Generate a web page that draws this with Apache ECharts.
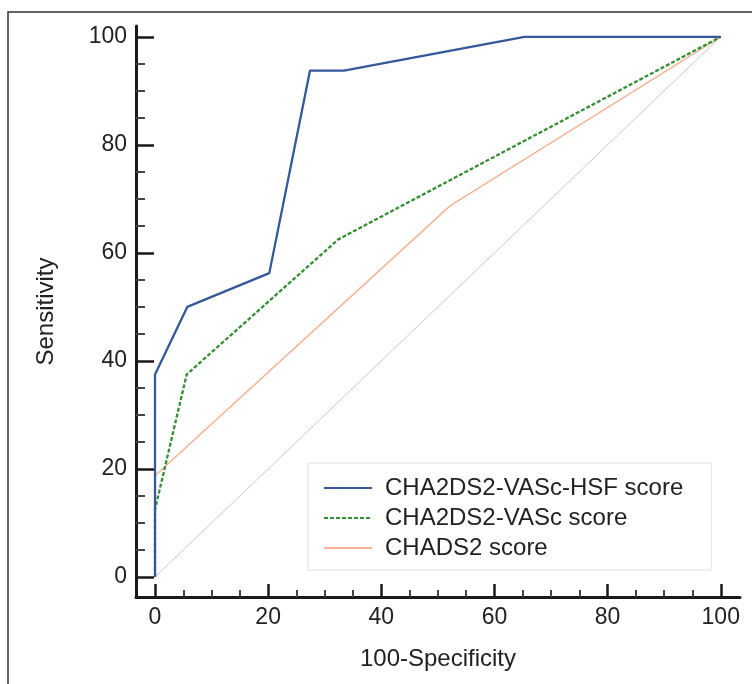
<!DOCTYPE html>
<html><head><meta charset="utf-8">
<script src="https://cdn.jsdelivr.net/npm/echarts@6/dist/echarts.min.js"></script>
<style>html,body{margin:0;padding:0;background:#fff}#c{width:752px;height:684px}</style>
</head><body><div id="c"></div>
<script>
// ---- data ----
const xTickValues = [0, 20, 40, 60, 80, 100];
const yTickValues = [0, 20, 40, 60, 80, 100];
const minorTickValues = [5, 10, 15, 25, 30, 35, 45, 50, 55, 65, 70, 75, 85, 90, 95];
const seriesNames = ['CHA2DS2-VASc-HSF score', 'CHA2DS2-VASc score', 'CHADS2 score'];
const hsfX = [0, 0, 5.7, 20.2, 27.4, 33.4, 65.3, 100];
const hsfY = [0, 37.5, 50, 56.25, 93.75, 93.75, 100, 100];
const vascX = [0, 0, 5.6, 32.4, 100];
const vascY = [0, 12.5, 37.5, 62.5, 100];
const chadsX = [0, 0, 52.2, 100];
const chadsY = [0, 18.75, 68.75, 100];
const refX = [0, 100];
const refY = [0, 100];

const pairs = (xs, ys) => xs.map((x, i) => [x, ys[i]]);
const font = 'Liberation Sans, Arial, sans-serif';
const axisColor = '#1a1a1a';

const chart = echarts.init(document.getElementById('c'), null, {renderer: 'canvas'});
chart.setOption({
  animation: false,
  backgroundColor: '#fff',
  textStyle: {fontFamily: font},
  graphic: [{
    type: 'rect', silent: true, z: -10,
    shape: {x: 8, y: 12, width: 780, height: 720},
    style: {fill: 'none', stroke: '#333', lineWidth: 1.5}
  }],
  grid: {left: 136, right: 12, top: 26, bottom: 87, containLabel: false, outerBoundsMode: 'none'},
  legend: {
    orient: 'vertical', left: 308, top: 463,
    data: seriesNames.map(n => ({name: n, itemStyle: {opacity: 0}})),
    itemWidth: 48, itemHeight: 14, itemGap: 6,
    padding: [13, 28, 10, 15],
    borderColor: '#e2e2e2', borderWidth: 1, backgroundColor: '#fff',
    itemStyle: {opacity: 0},
    textStyle: {fontSize: 24, color: '#222', fontFamily: font, padding: [0, 0, 0, 8]}
  },
  xAxis: [{
    type: 'value', min: -3.36, max: 103.4, position: 'bottom',
    name: '100-Specificity', nameLocation: 'middle', nameGap: 50,
    nameTextStyle: {fontSize: 24, color: '#222', fontFamily: font},
    axisLine: {show: true, onZero: false, lineStyle: {color: axisColor, width: 3}},
    axisTick: {show: true, inside: true, length: 13, customValues: xTickValues, lineStyle: {color: axisColor, width: 2.5}},
    axisLabel: {show: true, customValues: xTickValues, margin: 9, fontSize: 23, color: '#222', fontFamily: font},
    splitLine: {show: false}
  }, {
    type: 'value', min: -3.36, max: 103.4, position: 'bottom',
    axisLine: {show: false, onZero: false},
    axisTick: {show: true, inside: true, length: 7, customValues: minorTickValues, lineStyle: {color: '#444', width: 2}},
    axisLabel: {show: false},
    splitLine: {show: false}
  }],
  yAxis: [{
    type: 'value', min: -3.7, max: 102, position: 'left',
    name: 'Sensitivity', nameLocation: 'middle', nameGap: 78, nameRotate: 90,
    nameTextStyle: {fontSize: 24, color: '#222', fontFamily: font},
    axisLine: {show: true, onZero: false, lineStyle: {color: axisColor, width: 3}},
    axisTick: {show: true, inside: true, length: 18, customValues: yTickValues, lineStyle: {color: axisColor, width: 2.5}},
    axisLabel: {show: true, customValues: yTickValues, margin: 9, fontSize: 23, color: '#222', fontFamily: font},
    splitLine: {show: false}
  }, {
    type: 'value', min: -3.7, max: 102, position: 'left',
    axisLine: {show: false, onZero: false},
    axisTick: {show: true, inside: true, length: 9, customValues: minorTickValues, lineStyle: {color: '#444', width: 2}},
    axisLabel: {show: false},
    splitLine: {show: false}
  }],
  series: [{
    name: 'reference', type: 'line', symbol: 'none', silent: true,
    data: pairs(refX, refY),
    lineStyle: {color: '#c9c9c9', width: 1}, z: 1
  }, {
    name: seriesNames[2], type: 'line', symbol: 'none',
    data: pairs(chadsX, chadsY),
    itemStyle: {color: '#f3b596'},
    lineStyle: {color: '#f3b596', width: 1.6}, z: 2
  }, {
    name: seriesNames[1], type: 'line', symbol: 'none',
    data: pairs(vascX, vascY),
    itemStyle: {color: '#348f32'},
    lineStyle: {color: '#348f32', width: 2.3, type: [4, 2]}, z: 3
  }, {
    name: seriesNames[0], type: 'line', symbol: 'none',
    data: pairs(hsfX, hsfY),
    itemStyle: {color: '#34589a'},
    lineStyle: {color: '#34589a', width: 2.3}, z: 4
  }]
});
</script>
</body></html>
